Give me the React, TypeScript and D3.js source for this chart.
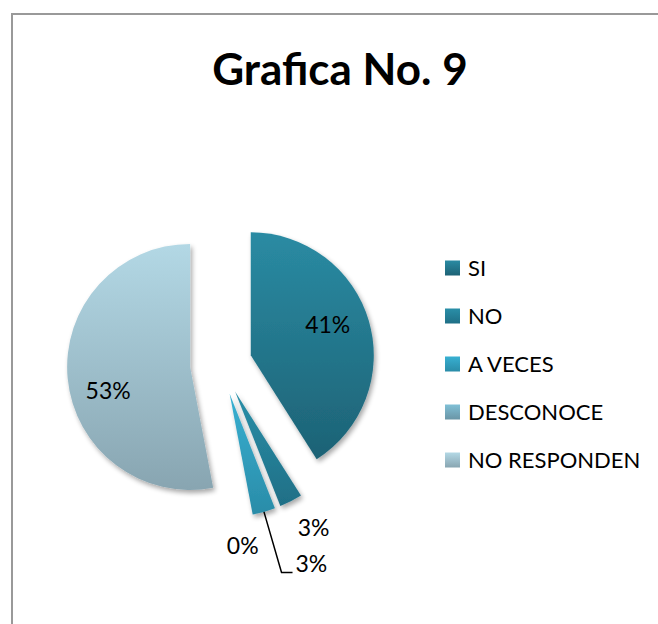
import React from "react";
import * as d3 from "d3";

const categories = ["SI", "NO", "A VECES", "DESCONOCE", "NO RESPONDEN"];
const values = [41, 3, 3, 0, 53];
const labels = ["41%", "3%", "3%", "0%", "53%"];
const title = "Grafica No. 9";

const colorTop = ["#2a8ba3", "#2a8fa8", "#38b0d2", "#80c0d6", "#b3d8e5"];
const colorBottom = ["#1d6275", "#1f6f86", "#2a8ca8", "#6a95a6", "#88a5b1"];

const W = 658;
const H = 624;
const FONT = "Lato, 'Open Sans', sans-serif";

export default function App() {
  const cx = 221;
  const cy = 364;
  const r = 123;
  const explode = 31;

  const pie = d3.pie<number>().sort(null).value((d) => d);
  const arcs = pie(values);
  const arc = d3.arc<d3.PieArcDatum<number>>().innerRadius(0).outerRadius(r);

  const centerOf = (a: d3.PieArcDatum<number>) => {
    const m = (a.startAngle + a.endAngle) / 2;
    return [cx + explode * Math.sin(m), cy - explode * Math.cos(m)];
  };
  const polar = (c: number[], angDeg: number, dist: number) => {
    const t = (angDeg * Math.PI) / 180;
    return [c[0] + dist * Math.sin(t), c[1] - dist * Math.cos(t)];
  };

  // label layout: polar offset from each exploded slice centre
  const labelLayout: { angle: number; dist: number; anchor: string; leader?: boolean }[] = [
    { angle: 68.7, dist: 82.6, anchor: "middle" },
    { angle: 150, dist: 157, anchor: "middle" },
    { angle: 158.9, dist: 183, anchor: "start", leader: true },
    { angle: 174, dist: 152, anchor: "middle" },
    { angle: 253.7, dist: 85.4, anchor: "middle" },
  ];

  const legendY = d3.scalePoint<string>().domain(categories).range([268, 460]);

  return (
    <svg
      width={W}
      height={H}
      style={{ position: "absolute", left: 0, top: 0, background: "#fff" }}
    >
      <defs>
        {categories.map((c, i) => (
          <linearGradient key={c} id={`g${i}`} x1="0" y1="0" x2="0" y2="1">
            <stop offset="0" stopColor={colorTop[i]} />
            <stop offset="1" stopColor={colorBottom[i]} />
          </linearGradient>
        ))}
        <filter id="sh" x="-20%" y="-20%" width="150%" height="150%">
          <feGaussianBlur in="SourceAlpha" stdDeviation="2.5" />
          <feOffset dx="2" dy="3" result="b" />
          <feComponentTransfer>
            <feFuncA type="linear" slope="0.35" />
          </feComponentTransfer>
          <feMerge>
            <feMergeNode />
            <feMergeNode in="SourceGraphic" />
          </feMerge>
        </filter>
      </defs>
      <rect x={0} y={0} width={W} height={H} fill="#fff" />
      <path d={`M12,${H} L12,14 L${W},14`} fill="none" stroke="#999" strokeWidth={2} />

      <text
        x={340}
        y={85}
        textAnchor="middle"
        fontFamily={FONT}
        fontWeight={700}
        fontSize={44}
        fill="#000"
      >
        {title}
      </text>

      {arcs.map((a, i) => {
        const c = centerOf(a);
        if (a.endAngle - a.startAngle <= 0) return null;
        return (
          <path
            key={i}
            d={arc(a) || ""}
            transform={`translate(${c[0]},${c[1]})`}
            fill={`url(#g${i})`}
            filter="url(#sh)"
          />
        );
      })}

      {arcs.map((a, i) => {
        const c = centerOf(a);
        const L = labelLayout[i];
        const m = (a.startAngle + a.endAngle) / 2;
        const p = polar(c, L.angle, L.dist);
        const baseY = p[1] + 8;
        let leader = null;
        if (L.leader) {
          const s = [c[0] + r * Math.sin(m), c[1] - r * Math.cos(m)];
          leader = (
            <polyline
              points={`${s[0]},${s[1]} ${p[0] - 14},${baseY} ${p[0] - 3},${baseY}`}
              fill="none"
              stroke="#000"
              strokeWidth={1.5}
            />
          );
        }
        return (
          <g key={i}>
            {leader}
            <text
              x={p[0]}
              y={baseY}
              textAnchor={L.anchor}
              fontFamily={FONT}
              fontSize={23}
              fill="#000"
            >
              {labels[i]}
            </text>
          </g>
        );
      })}

      {categories.map((c, i) => {
        const y = legendY(c)!;
        return (
          <g key={c}>
            <rect x={445} y={y - 7.5} width={15} height={15} fill={`url(#g${i})`} />
            <text x={468} y={y + 8} fontFamily={FONT} fontSize={22} fill="#000">
              {c}
            </text>
          </g>
        );
      })}
    </svg>
  );
}
